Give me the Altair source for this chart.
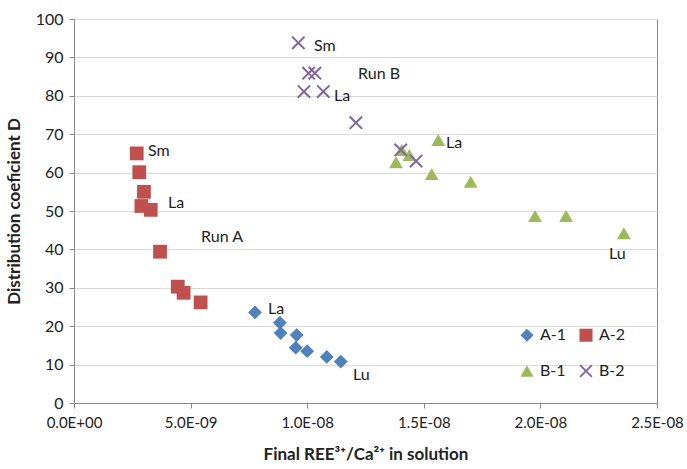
import json
import altair as alt
import pandas as pd

FONT = "Lato"

# ---- data ----
a1_x = [7.76e-9, 8.83e-9, 8.86e-9, 9.55e-9, 9.51e-9, 10.0e-9, 10.84e-9, 11.44e-9]
a1_y = [23.6, 20.9, 18.2, 17.7, 14.4, 13.5, 12.0, 10.8]

a2_x = [2.69e-9, 2.80e-9, 3.00e-9, 2.89e-9, 3.29e-9, 3.69e-9, 4.45e-9, 4.70e-9, 5.43e-9]
a2_y = [65.0, 60.1, 55.0, 51.3, 50.3, 39.4, 30.3, 28.7, 26.2]

b1_x = [15.62e-9, 14.05e-9, 14.38e-9, 13.81e-9, 15.34e-9, 17.01e-9, 19.77e-9, 21.10e-9, 23.58e-9]
b1_y = [68.5, 65.9, 64.6, 62.7, 59.6, 57.6, 48.7, 48.7, 44.2]

b2_x = [9.62e-9, 10.06e-9, 10.33e-9, 9.86e-9, 10.69e-9, 12.09e-9, 14.01e-9, 14.67e-9]
b2_y = [93.8, 85.9, 85.9, 81.1, 81.1, 73.0, 65.9, 63.0]

series_names = ["A-1", "A-2", "B-1", "B-2"]
series_colors = ["#4F81BD", "#C0504D", "#9BBB59", "#8064A2"]

note_text = ["Sm", "La", "Run A", "La", "Lu", "Sm", "Run B", "La", "La", "Lu"]
note_x = [3.17e-9, 4.03e-9, 5.45e-9, 8.32e-9, 11.96e-9, 10.29e-9, 12.18e-9, 11.15e-9, 15.95e-9, 22.94e-9]
note_y = [65.6, 52.1, 43.2, 24.5, 7.3, 93.0, 85.7, 80.0, 67.7, 38.8]

x_tick_values = [0, 5e-9, 1e-8, 1.5e-8, 2e-8, 2.5e-8]
x_tick_labels = ["0.0E+00", "5.0E-09", "1.0E-08", "1.5E-08", "2.0E-08", "2.5E-08"]
y_tick_values = list(range(0, 101, 10))

# ---- build tables ----
rows = []
for name, xs, ys in [("A-1", a1_x, a1_y), ("A-2", a2_x, a2_y),
                     ("B-1", b1_x, b1_y), ("B-2", b2_x, b2_y)]:
    for xv, yv in zip(xs, ys):
        rows.append({"series": name, "x": xv, "y": yv})
pts = pd.DataFrame(rows)
notes = pd.DataFrame({"label": note_text, "x": note_x, "y": note_y})

cross_path = "M-1,-0.8L-0.8,-1L0,-0.2L0.8,-1L1,-0.8L0.2,0L1,0.8L0.8,1L0,0.2L-0.8,1L-1,0.8L-0.2,0Z"

label_expr = json.dumps(x_tick_labels).replace('"', "'") + "[round(datum.value/5e-9)]"

xscale = alt.Scale(domain=[0, 2.5e-8], nice=False, zero=False)
yscale = alt.Scale(domain=[0, 100], nice=False)

xaxis = alt.Axis(
    values=x_tick_values, labelExpr=label_expr, grid=False,
    title="Final REE³⁺/Ca²⁺ in solution",
    titleFont=FONT, titleFontSize=17, titleFontWeight="bold", titleColor="#222",
    titlePadding=16, labelFont=FONT, labelFontSize=15, labelColor="#222",
    labelPadding=7, tickSize=5, tickColor="#898989", domainColor="#898989",
    labelFlush=False, labelOverlap=False,
)
yaxis = alt.Axis(
    values=y_tick_values, tickCount=11, grid=True, gridColor="#d9d9d9",
    title="Distribution coeficient D",
    titleFont=FONT, titleFontSize=17, titleFontWeight="bold", titleColor="#222",
    titlePadding=12, labelFont=FONT, labelFontSize=16, labelColor="#222",
    labelPadding=6, tickSize=5, tickColor="#898989", domainColor="#898989",
    labelOverlap=False,
)

points = alt.Chart(pts).mark_point(filled=True, size=190, opacity=1).encode(
    x=alt.X("x:Q", scale=xscale, axis=xaxis),
    y=alt.Y("y:Q", scale=yscale, axis=yaxis),
    color=alt.Color("series:N",
                    scale=alt.Scale(domain=series_names, range=series_colors),
                    legend=alt.Legend(
                        title=None, orient="none", legendX=445, legendY=308,
                        direction="horizontal",
                        columns=2, columnPadding=9, rowPadding=16,
                        labelFont=FONT, labelFontSize=16, labelColor="#222",
                        symbolSize=170, labelOffset=5, symbolOpacity=1,
                    )),
    shape=alt.Shape("series:N",
                    scale=alt.Scale(domain=series_names,
                                    range=["diamond", "square", "triangle-up", cross_path])),
)

texts = alt.Chart(notes).mark_text(
    align="left", baseline="middle", font=FONT, fontSize=16, color="#222"
).encode(
    x=alt.X("x:Q", scale=xscale, axis=xaxis),
    y=alt.Y("y:Q", scale=yscale, axis=yaxis),
    text="label:N",
)

chart = alt.layer(points, texts).properties(
    width=583, height=384,
    autosize=alt.AutoSizeParams(type="none"),
    padding={"left": 74, "top": 19, "right": 30, "bottom": 66},
    background="white",
).configure_view(stroke="#898989", strokeWidth=1)

chart.save("out.html", embed_options={"renderer": "svg", "actions": False})
